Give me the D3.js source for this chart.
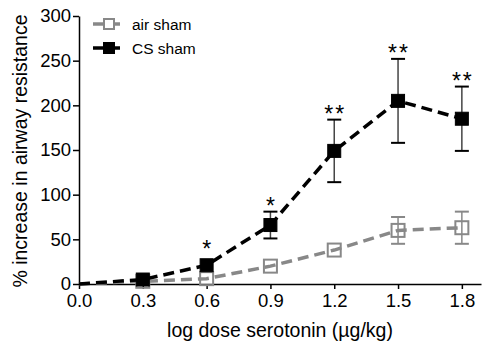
<!DOCTYPE html>
<html>
<head>
<meta charset="utf-8">
<script src="https://cdn.jsdelivr.net/npm/d3@7"></script>
<style>
  body { margin: 0; background: #fff; }
  text { font-family: "Liberation Sans", Arial, sans-serif; }
</style>
</head>
<body>
<script>
const doses = [0.0, 0.3, 0.6, 0.9, 1.2, 1.5, 1.8]
const xTicks = [0.0, 0.3, 0.6, 0.9, 1.2, 1.5, 1.8]
const yTicks = [0, 50, 100, 150, 200, 250, 300]

// air sham: mean, error (sem) — only visible where bars stick out
const airMean = [0, 3, 6, 20, 38, 60, 63]
const airErr = [0, 0, 0, 0, 0, 15, 18]
// CS sham
const csMean = [0, 5, 21, 66, 149, 205, 185]
const csErr = [0, 0, 0, 15, 35, 47, 36]
const stars = ['', '', '*', '*', '**', '**', '**']

const W = 483, H = 345
const margin = { left: 79, top: 16, right: 2, bottom: 61 }

const svg = d3.select(document.body).append('svg')
  .attr('width', W)
  .attr('height', H)

const x = d3.scaleLinear([0, 1.89], [margin.left, W - margin.right])
const y = d3.scaleLinear([0, 300], [H - margin.bottom, margin.top])

const xAxis = svg.append('g')
  .attr('transform', `translate(0,${y(0)})`)
  .call(d3.axisBottom(x).tickValues(xTicks).tickFormat(d3.format('.1f')).tickSize(5).tickPadding(5).tickSizeOuter(0))
const yAxis = svg.append('g')
  .attr('transform', `translate(${x(0)},0)`)
  .call(d3.axisLeft(y).tickValues(yTicks).tickSize(6).tickPadding(2).tickSizeOuter(0))

for (const ax of [xAxis, yAxis]) {
  ax.select('.domain').attr('stroke', '#000').attr('stroke-width', 1.5)
  ax.selectAll('.tick line').attr('stroke', '#000').attr('stroke-width', 1.5)
  ax.selectAll('.tick text')
    .attr('fill', '#000')
    .style('font-size', '18.5px')
    .style('font-family', '"Liberation Sans", Arial, sans-serif')
}

svg.append('text')
  .attr('x', 280).attr('y', 337)
  .attr('text-anchor', 'middle')
  .style('font-size', '19.5px')
  .text('log dose serotonin (µg/kg)')

svg.append('text')
  .attr('transform', `translate(27,${151}) rotate(-90)`)
  .attr('text-anchor', 'middle')
  .style('font-size', '19.5px')
  .text('% increase in airway resistance')

const line = d3.line().x((d, i) => x(doses[i])).y(d => y(d))
const ms = 13

function series(mean, err, colour, filled, errColour) {
  const g = svg.append('g')
  // error bars
  mean.forEach((m, i) => {
    if (!err[i]) return
    const cx = x(doses[i])
    g.append('line').attr('x1', cx).attr('x2', cx)
      .attr('y1', y(m + err[i])).attr('y2', y(m - err[i]))
      .attr('stroke', errColour).attr('stroke-width', 1.5)
    for (const v of [m + err[i], m - err[i]]) {
      g.append('line').attr('x1', cx - 7).attr('x2', cx + 7)
        .attr('y1', y(v)).attr('y2', y(v))
        .attr('stroke', filled ? '#000' : errColour).attr('stroke-width', 2)
    }
  })
  const markers = g.append('g')
  g.append('path')
    .attr('d', line(mean))
    .attr('fill', 'none')
    .attr('stroke', colour)
    .attr('stroke-width', 3.5)
    .attr('stroke-dasharray', '11 6')
  mean.forEach((m, i) => {
    if (i === 0) return
    markers.append('rect')
      .attr('x', x(doses[i]) - ms / 2).attr('y', y(m) - ms / 2)
      .attr('width', ms).attr('height', ms)
      .attr('fill', filled ? colour : 'none')
      .attr('stroke', colour).attr('stroke-width', filled ? 1 : 2)
  })
  if (filled) markers.raise()
}

series(airMean, airErr, '#888', false, '#888')
series(csMean, csErr, '#000', true, '#444')

// significance stars, just above the CS error bar (or marker)
stars.forEach((s, i) => {
  if (!s) return
  const top = csErr[i] ? y(csMean[i] + csErr[i]) : y(csMean[i]) - 11
  svg.append('text')
    .attr('x', x(doses[i]) + 1).attr('y', top + 2.5)
    .attr('text-anchor', 'middle')
    .style('font-size', '23px')
    .style('letter-spacing', '2px')
    .text(s)
})

// legend
const legend = [
  { label: 'air sham', colour: '#888', filled: false, cy: 24 },
  { label: 'CS sham', colour: '#000', filled: true, cy: 48 }
]
legend.forEach(l => {
  svg.append('line').attr('x1', 93).attr('x2', 120).attr('y1', l.cy).attr('y2', l.cy)
    .attr('stroke', l.colour).attr('stroke-width', 3.5)
  svg.append('rect').attr('x', 104).attr('y', l.cy - 5).attr('width', 10).attr('height', 10)
    .attr('fill', l.filled ? l.colour : '#fff')
    .attr('stroke', l.colour).attr('stroke-width', 2)
  svg.append('text').attr('x', 132).attr('y', l.cy + 5.5)
    .style('font-size', '15.5px')
    .text(l.label)
})
</script>
</body>
</html>
